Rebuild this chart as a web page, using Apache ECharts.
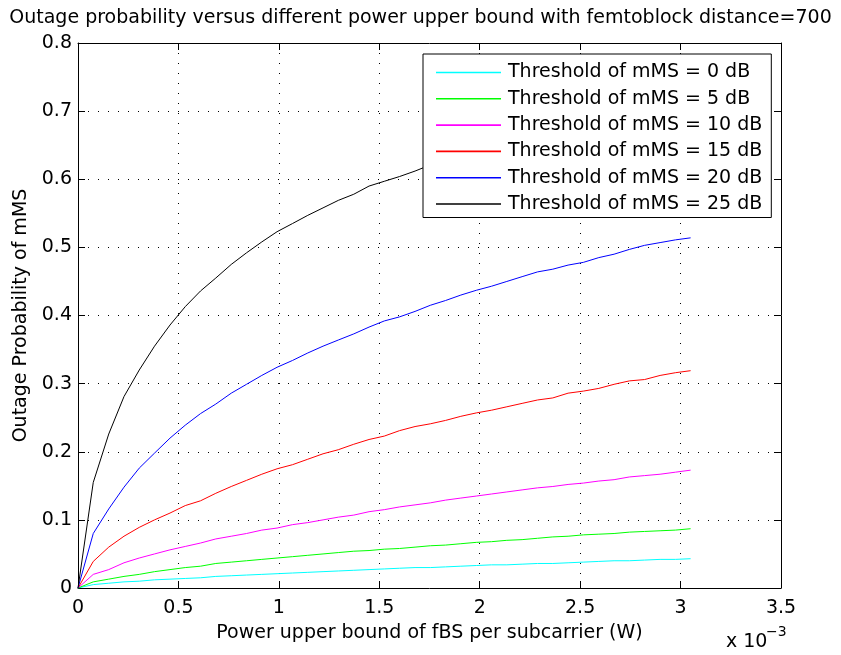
<!DOCTYPE html>
<html>
<head>
<meta charset="utf-8">
<title>Outage probability vs power upper bound</title>
<script src="https://cdn.jsdelivr.net/npm/echarts@6/dist/echarts.min.js"></script>
<style>
  html, body { margin: 0; padding: 0; background: #fff; }
  #chart { width: 841px; height: 655px; }
</style>
</head>
<body>
<div id="chart"></div>
<script>
// Power upper bound of fBS per subcarrier, in units of 1e-3 W
const powerX = [
  0, 0.076, 0.153, 0.229, 0.305, 0.381, 0.458, 0.534, 0.610, 0.686,
  0.763, 0.839, 0.915, 0.991, 1.068, 1.144, 1.220, 1.296, 1.373, 1.449,
  1.525, 1.601, 1.678, 1.754, 1.830, 1.906, 1.983, 2.059, 2.135, 2.211,
  2.288, 2.364, 2.440, 2.516, 2.593, 2.669, 2.745, 2.821, 2.898, 2.974, 3.050
];

// Outage probability of mMS for each SINR threshold
const outage0dB = [
  0, 0.005, 0.007, 0.009, 0.010, 0.012, 0.013, 0.014, 0.015, 0.017,
  0.018, 0.019, 0.020, 0.021, 0.022, 0.023, 0.024, 0.025, 0.026, 0.027,
  0.028, 0.029, 0.030, 0.030, 0.031, 0.032, 0.033, 0.034, 0.034, 0.035,
  0.036, 0.036, 0.037, 0.038, 0.039, 0.040, 0.040, 0.041, 0.042, 0.042, 0.043
];
const outage5dB = [
  0, 0.009, 0.013, 0.017, 0.020, 0.024, 0.027, 0.030, 0.032, 0.036,
  0.038, 0.040, 0.042, 0.044, 0.046, 0.048, 0.050, 0.052, 0.054, 0.055,
  0.057, 0.058, 0.060, 0.062, 0.063, 0.065, 0.067, 0.068, 0.070, 0.071,
  0.073, 0.075, 0.076, 0.078, 0.079, 0.080, 0.082, 0.083, 0.084, 0.085, 0.087
];
const outage10dB = [
  0, 0.020, 0.027, 0.037, 0.044, 0.050, 0.056, 0.061, 0.066, 0.072,
  0.076, 0.080, 0.085, 0.088, 0.093, 0.096, 0.100, 0.104, 0.107, 0.112,
  0.115, 0.119, 0.122, 0.125, 0.129, 0.132, 0.135, 0.138, 0.141, 0.144,
  0.147, 0.149, 0.152, 0.154, 0.157, 0.159, 0.163, 0.165, 0.167, 0.170, 0.173
];
const outage15dB = [
  0, 0.039, 0.060, 0.076, 0.089, 0.100, 0.110, 0.121, 0.128, 0.139,
  0.149, 0.158, 0.167, 0.175, 0.181, 0.189, 0.197, 0.203, 0.211, 0.218,
  0.223, 0.231, 0.237, 0.241, 0.246, 0.252, 0.257, 0.261, 0.266, 0.271,
  0.276, 0.279, 0.286, 0.289, 0.293, 0.299, 0.304, 0.306, 0.312, 0.316, 0.319
];
const outage20dB = [
  0, 0.080, 0.116, 0.148, 0.176, 0.198, 0.220, 0.239, 0.256, 0.270,
  0.286, 0.299, 0.312, 0.324, 0.334, 0.345, 0.355, 0.364, 0.373, 0.383,
  0.392, 0.398, 0.406, 0.415, 0.422, 0.430, 0.437, 0.443, 0.450, 0.457,
  0.464, 0.468, 0.474, 0.478, 0.485, 0.490, 0.497, 0.503, 0.507, 0.511, 0.514
];
const outage25dB = [
  0, 0.155, 0.226, 0.281, 0.320, 0.355, 0.386, 0.413, 0.436, 0.455,
  0.475, 0.492, 0.508, 0.523, 0.535, 0.547, 0.558, 0.569, 0.578, 0.590,
  0.597, 0.604, 0.612, 0.621, 0.629, 0.637, 0.645, 0.652, 0.659, 0.666,
  0.673, 0.680, 0.686, 0.692, 0.698, 0.704, 0.710, 0.716, 0.721, 0.726, 0.731
];

const seriesNames = [
  'Threshold of mMS = 0 dB',
  'Threshold of mMS = 5 dB',
  'Threshold of mMS = 10 dB',
  'Threshold of mMS = 15 dB',
  'Threshold of mMS = 20 dB',
  'Threshold of mMS = 25 dB'
];
const seriesValues = [outage0dB, outage5dB, outage10dB, outage15dB, outage20dB, outage25dB];
const seriesColors = ['#00ffff', '#00ff00', '#ff00ff', '#ff0000', '#0000ff', '#000000'];

const xTicks = { min: 0, max: 3.5, interval: 0.5 };
const yTicks = { min: 0, max: 0.8, interval: 0.1 };

const FONT = 'DejaVu Sans';
const FS = 19;

const chart = echarts.init(document.getElementById('chart'), null, { renderer: 'canvas' });

const frameAxis = {
  axisLine: { show: true, onZero: false, lineStyle: { color: '#000', width: 1 } },
  axisTick: { show: true, inside: true, length: 7, lineStyle: { color: '#000', width: 1 } }
};
const dotted = { color: '#000', width: 1, type: [1, 9] };

chart.setOption({
  animation: false,
  backgroundColor: '#fff',
  color: seriesColors,
  title: {
    text: 'Outage probability versus different power upper bound with femtoblock distance=700',
    left: 'center',
    top: 9,
    padding: 0,
    textStyle: { fontFamily: FONT, fontSize: FS, fontWeight: 'normal', color: '#000', lineHeight: 19 }
  },
  grid: { left: 78, right: 60, top: 43, bottom: 67, containLabel: false },
  legend: {
    orient: 'vertical',
    left: 423,
    top: 54,
    padding: [9, 9, 4, 13],
    itemGap: 7.3,
    itemWidth: 65,
    itemHeight: 4,
    // thin horizontal stroke as the sample line of each entry
    icon: 'path://M0,1.2 L65,1.2 L65,2.8 L0,2.8 Z',
    backgroundColor: '#fff',
    borderColor: '#000',
    borderWidth: 1,
    borderRadius: 0,
    selectedMode: false,
    textStyle: { fontFamily: FONT, fontSize: FS, color: '#000', lineHeight: 19, padding: [0, 0, 0, 2] },
    data: seriesNames.map((name, i) => ({
      name: name,
      itemStyle: { color: seriesColors[i], borderWidth: 0, opacity: 1 }
    }))
  },
  xAxis: [
    Object.assign({
      type: 'value',
      min: xTicks.min, max: xTicks.max, interval: xTicks.interval,
      position: 'bottom',
      name: 'Power upper bound of fBS per subcarrier (W)',
      nameLocation: 'middle',
      nameGap: 36,
      nameTextStyle: { fontFamily: FONT, fontSize: FS, color: '#000', lineHeight: 19 },
      axisLabel: { fontFamily: FONT, fontSize: FS, color: '#000', margin: 11, lineHeight: 19 },
      splitLine: { show: true, lineStyle: dotted }
    }, frameAxis),
    Object.assign({
      type: 'value',
      min: xTicks.min, max: xTicks.max, interval: xTicks.interval,
      position: 'top',
      axisLabel: { show: false },
      splitLine: { show: false }
    }, frameAxis)
  ],
  yAxis: [
    Object.assign({
      type: 'value',
      min: yTicks.min, max: yTicks.max, interval: yTicks.interval,
      position: 'left',
      name: 'Outage Probability of mMS',
      nameLocation: 'middle',
      nameGap: 43,
      nameRotate: 90,
      nameTextStyle: { fontFamily: FONT, fontSize: FS, color: '#000', lineHeight: 19 },
      axisLabel: { fontFamily: FONT, fontSize: FS, color: '#000', margin: 6 },
      splitLine: { show: true, lineStyle: dotted }
    }, frameAxis),
    Object.assign({
      type: 'value',
      min: yTicks.min, max: yTicks.max, interval: yTicks.interval,
      position: 'right',
      axisLabel: { show: false },
      splitLine: { show: false }
    }, frameAxis)
  ],
  graphic: [
    {
      type: 'text',
      left: 726,
      top: 633,
      style: { text: 'x 10', font: FS + 'px "' + FONT + '"', fill: '#000' }
    },
    {
      type: 'text',
      left: 766,
      top: 625,
      style: { text: '\u22123', font: '14px "' + FONT + '"', fill: '#000' }
    }
  ],
  series: seriesValues.map((vals, i) => ({
    name: seriesNames[i],
    type: 'line',
    xAxisIndex: 0,
    yAxisIndex: 0,
    symbol: 'none',
    silent: true,
    itemStyle: { color: seriesColors[i] },
    lineStyle: { color: seriesColors[i], width: 1 },
    data: powerX.map((x, k) => [x, vals[k]])
  }))
});
</script>
</body>
</html>
